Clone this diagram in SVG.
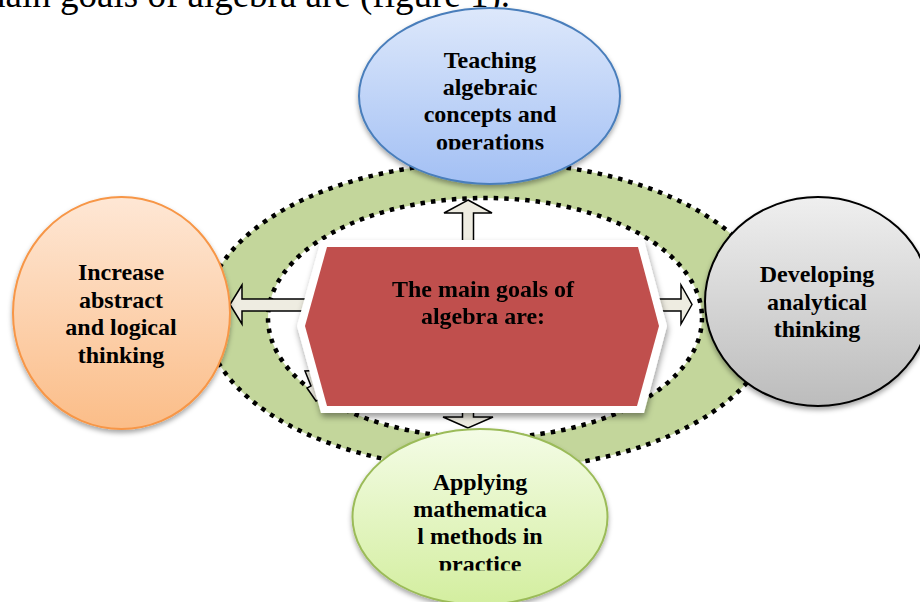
<svg xmlns="http://www.w3.org/2000/svg" width="920" height="602" viewBox="0 0 920 602">
<style>
.t{font-family:"Liberation Serif","Times New Roman",serif;font-weight:bold;font-size:24px;text-anchor:middle;fill:#000}
.title{font-family:"Liberation Serif","Times New Roman",serif;font-size:37px;fill:#000}
.dot{fill:none;stroke:#000;stroke-width:4.5;stroke-dasharray:4.5 6}
.arr{fill:#EEECE1;stroke:#000;stroke-width:1.5;stroke-linejoin:miter}
</style>
<defs>
<linearGradient id="gBlue" x1="0" y1="0" x2="0" y2="1"><stop offset="0" stop-color="#DDE8FB"/><stop offset="1" stop-color="#A3C0F4"/></linearGradient>
<linearGradient id="gOrange" x1="0" y1="0" x2="0" y2="1"><stop offset="0" stop-color="#FEE7D5"/><stop offset="1" stop-color="#FBBD88"/></linearGradient>
<linearGradient id="gGray" x1="0" y1="0" x2="0" y2="1"><stop offset="0" stop-color="#EFEFEF"/><stop offset="1" stop-color="#BCBCBC"/></linearGradient>
<linearGradient id="gGreen" x1="0" y1="0" x2="0" y2="1"><stop offset="0" stop-color="#F4FCE6"/><stop offset="1" stop-color="#D3EE9F"/></linearGradient>
<filter id="sh" x="-20%" y="-20%" width="140%" height="150%"><feDropShadow dx="0" dy="3" stdDeviation="2.5" flood-color="#000" flood-opacity="0.35"/></filter>
<filter id="shHex" x="-10%" y="-10%" width="120%" height="130%"><feDropShadow dx="1" dy="4" stdDeviation="3" flood-color="#000" flood-opacity="0.4"/></filter>
<clipPath id="clipBlue"><rect x="350" y="0" width="280" height="149.5"/></clipPath>
<clipPath id="clipGreen"><rect x="340" y="420" width="280" height="150.5"/></clipPath>
</defs>

<text class="title" x="510" y="7" text-anchor="end">main goals of algebra are (figure 1).</text>

<g id="ring">
<ellipse cx="490" cy="316" rx="285" ry="154" fill="#C3D69B"/>
<ellipse cx="490" cy="316" rx="285" ry="154" class="dot"/>
<ellipse cx="485" cy="318" rx="217" ry="120" fill="#FFFFFF"/>
<ellipse cx="485" cy="318" rx="217" ry="120" class="dot"/>
</g>

<g id="connectors">
<polygon class="arr" points="468,200 492,213 473.5,213 473.5,260 462.5,260 462.5,213 444,213"/>
<polygon class="arr" points="468,428 443,417 462.5,417 462.5,390 473.5,390 473.5,417 493,417"/>
<polygon class="arr" points="230,304.5 242,285 242,299 330,299 330,311 242,311 242,324"/>
<polygon class="arr" points="692,304.5 681,324 681,311 630,311 630,299 681,299 681,285"/>
<polygon class="arr" points="305,371 311,386 307,388 316,401 330,395 325,370"/>
</g>

<g id="center" filter="url(#shHex)">
<polygon points="321,240 644,240 667,326 644,413 321,413 297,326" fill="#FFFFFF"/>
<polygon points="327,247 638,247 659,326 637,406 327,406 305,326" fill="#C0504D"/>
<text class="t"><tspan x="483" y="297">The main goals of</tspan><tspan x="483" y="324">algebra are:</tspan></text>
</g>

<g id="node-top">
<ellipse cx="489.5" cy="96" rx="130.5" ry="88" fill="url(#gBlue)" stroke="#4A7EBB" stroke-width="2" filter="url(#sh)"/>
<text class="t" clip-path="url(#clipBlue)"><tspan x="490" y="68">Teaching</tspan><tspan x="490" y="95">algebraic</tspan><tspan x="490" y="122">concepts and</tspan><tspan x="490" y="150">operations</tspan></text>
</g>

<g id="node-left">
<ellipse cx="121.5" cy="313" rx="108.5" ry="116" fill="url(#gOrange)" stroke="#F79646" stroke-width="2" filter="url(#sh)"/>
<text class="t"><tspan x="121" y="280">Increase</tspan><tspan x="121" y="307.5">abstract</tspan><tspan x="121" y="335">and logical</tspan><tspan x="121" y="362.5">thinking</tspan></text>
</g>

<g id="node-right">
<ellipse cx="818" cy="301.5" rx="113" ry="104.5" fill="url(#gGray)" stroke="#000" stroke-width="2" filter="url(#sh)"/>
<text class="t"><tspan x="817" y="282">Developing</tspan><tspan x="817" y="309.5">analytical</tspan><tspan x="817" y="337">thinking</tspan></text>
</g>

<g id="node-bottom">
<ellipse cx="480" cy="517" rx="127.5" ry="88" fill="url(#gGreen)" stroke="#9BBB59" stroke-width="2" filter="url(#sh)"/>
<text class="t" clip-path="url(#clipGreen)"><tspan x="480" y="490">Applying</tspan><tspan x="480" y="517">mathematica</tspan><tspan x="480" y="544">l methods in</tspan><tspan x="480" y="572">practice</tspan></text>
</g>
</svg>
